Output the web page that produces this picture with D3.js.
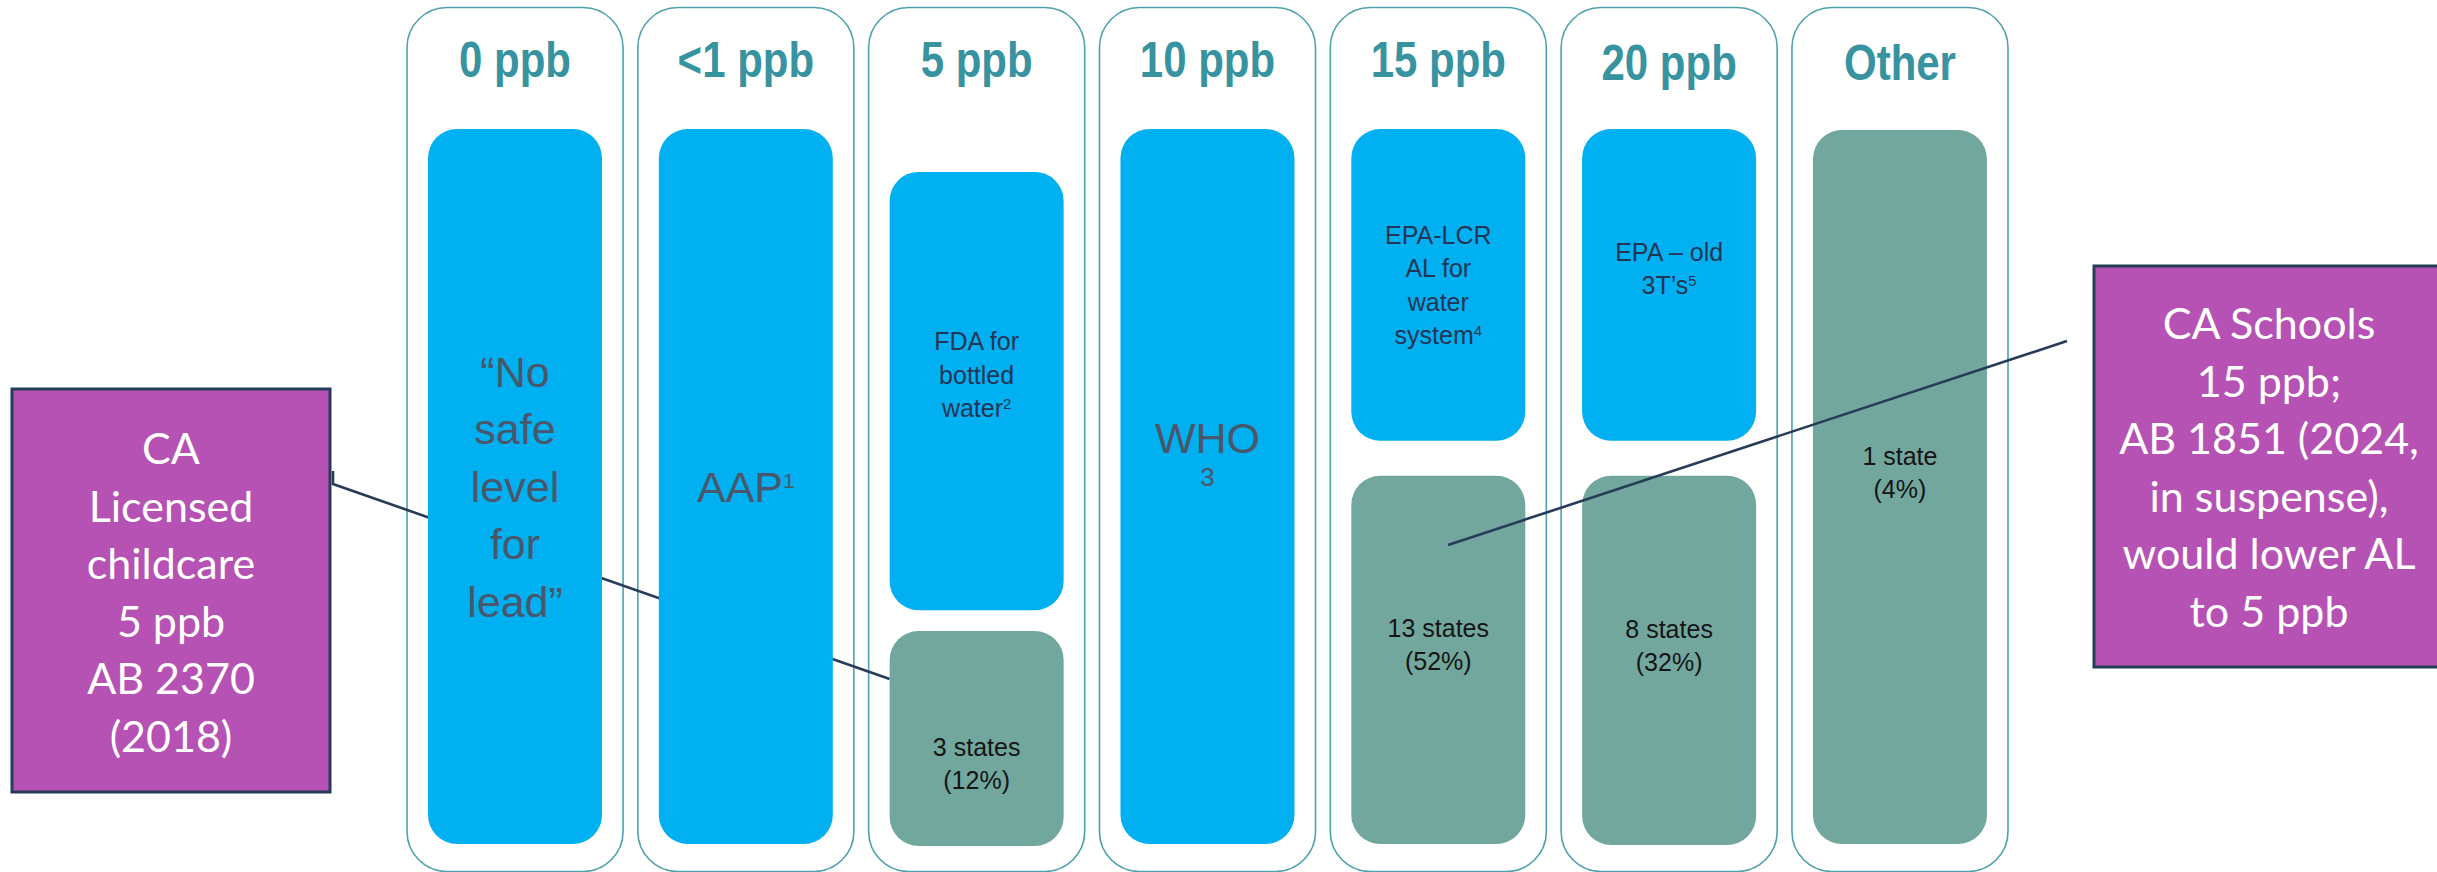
<!DOCTYPE html>
<html>
<head>
<meta charset="utf-8">
<script src="https://cdn.jsdelivr.net/npm/d3@7"></script>
<style>
  html, body { margin: 0; padding: 0; background: #ffffff; }
  svg { display: block; }
</style>
</head>
<body>
<script>
// ---------------- DATA ----------------
const categories = ["0 ppb", "<1 ppb", "5 ppb", "10 ppb", "15 ppb", "20 ppb", "Other"];
const standardLabels = [
  ["“No", "safe", "level", "for", "lead”"],
  ["AAP"],
  ["FDA for", "bottled", "water", ""],
  ["WHO"],
  ["EPA-LCR", "AL for", "water", "system"],
  ["EPA – old", "3T’s", ""],
  []
];
const footnotes = ["", "1", "2", "3", "4", "5", ""];
const stateCounts = [null, null, 3, null, 13, 8, 1];
const statePercents = [null, null, 12, null, 52, 32, 4];
const calloutLeft = ["CA", "Licensed", "childcare", "5 ppb", "AB 2370", "(2018)"];
const calloutRight = ["CA Schools", "15 ppb;", "AB 1851 (2024,", "in suspense),", "would lower AL", "to 5 ppb"];

// ---------------- LAYOUT ----------------
const W = 2437, H = 872;
const C = {
  blue: "#00b0f0", green: "#72a79e", purple: "#b552b4", navy: "#263c58",
  frame: "#4ea2ad", header: "#3893a0", greyText: "#4a566a", navyText: "#233555", black: "#151515"
};
// vertical extents of the inner boxes (fraction of the inner column height)
const layout = [
  { blue: [0, 1], big: true },
  { blue: [0, 1], big: true },
  { blue: [0.06, 0.673], green: [0.702, 1.0028], greenOff: 18 },
  { blue: [0, 1], big: true, wrapNote: true },
  { blue: [0, 0.436], green: [0.485, 1], greenOff: -23 },
  { blue: [0, 0.436], green: [0.485, 1.0014], greenOff: -22 },
  { green: [0.0014, 1], greenOff: -22 }
];

const svg = d3.select("body").append("svg").attr("width", W).attr("height", H);

const x = d3.scaleBand().domain(categories).range([407, 2008]).paddingInner(0.064).paddingOuter(0);
const y = d3.scaleLinear().domain([0, 1]).range([129, 844]);
const inset = 21, boxW = 174;

const SANS = "'Liberation Sans', Arial, sans-serif";

// column frames
svg.append("g").selectAll("rect").data(categories).join("rect")
  .attr("x", d => x(d)).attr("y", 7.5)
  .attr("width", x.bandwidth()).attr("height", 864)
  .attr("rx", 40).attr("ry", 40)
  .attr("fill", "none").attr("stroke", C.frame).attr("stroke-width", 1.6);

// column headers (condensed bold)
svg.append("g").selectAll("text").data(categories).join("text")
  .attr("transform", (d, i) => `translate(${x(d) + x.bandwidth() / 2},${i >= 5 ? 80 : 77}) scale(0.84,1)`)
  .attr("text-anchor", "middle")
  .attr("font-family", SANS).attr("font-weight", "bold").attr("font-size", 50)
  .attr("fill", C.header)
  .text(d => d);

// left connector (behind the inner boxes)
svg.append("path")
  .attr("d", `M333,471 L333,484 L${x("5 ppb") + inset},679`)
  .attr("fill", "none").attr("stroke", C.navy).attr("stroke-width", 2.6);

// inner boxes
const gBoxes = svg.append("g");
categories.forEach((cat, i) => {
  const L = layout[i];
  const bx = x(cat) + inset, cx = bx + boxW / 2;
  if (L.blue) {
    const y0 = y(L.blue[0]), y1 = y(L.blue[1]);
    gBoxes.append("rect").attr("x", bx).attr("y", y0).attr("width", boxW).attr("height", y1 - y0)
      .attr("rx", 29).attr("fill", C.blue);
    const lines = standardLabels[i];
    const mid = (y0 + y1) / 2;
    if (L.big) {
      const fs = 43, lh = 57.5;
      if (L.wrapNote) {
        gBoxes.append("text").attr("x", cx).attr("y", mid - 33.5).attr("text-anchor", "middle")
          .attr("font-family", SANS).attr("font-size", fs).attr("fill", C.greyText).text(lines[0]);
        gBoxes.append("text").attr("x", cx).attr("y", mid - 0.5).attr("text-anchor", "middle")
          .attr("font-family", SANS).attr("font-size", 26).attr("fill", C.greyText).text(footnotes[i]);
      } else {
        const first = mid - (lines.length - 1) / 2 * lh + 15.4;
        lines.forEach((ln, k) => {
          const t = gBoxes.append("text").attr("x", cx).attr("y", first + k * lh).attr("text-anchor", "middle")
            .attr("font-family", SANS).attr("font-size", fs).attr("fill", C.greyText);
          t.append("tspan").text(ln);
          if (k === lines.length - 1 && footnotes[i]) {
            t.append("tspan").attr("font-size", 21).attr("dy", -14).text(footnotes[i]);
          }
        });
      }
    } else {
      const fs = 25, lh = 33.5;
      const first = mid - (lines.length - 1) / 2 * lh + 9.3;
      let lastIdx = lines.length - 1;
      while (lastIdx > 0 && lines[lastIdx] === "") lastIdx--;
      lines.forEach((ln, k) => {
        if (ln === "") return;
        const t = gBoxes.append("text").attr("x", cx).attr("y", first + k * lh).attr("text-anchor", "middle")
          .attr("font-family", SANS).attr("font-size", fs).attr("fill", C.navyText);
        t.append("tspan").text(ln);
        if (k === lastIdx && footnotes[i]) {
          t.append("tspan").attr("font-size", 15).attr("dy", -8).text(footnotes[i]);
        }
      });
    }
  }
  if (L.green) {
    const y0 = y(L.green[0]), y1 = y(L.green[1]);
    gBoxes.append("rect").attr("x", bx).attr("y", y0).attr("width", boxW).attr("height", y1 - y0)
      .attr("rx", 29).attr("fill", C.green);
    const mid = (y0 + y1) / 2 + L.greenOff;
    const n = stateCounts[i];
    const l1 = `${n} ${n === 1 ? "state" : "states"}`;
    const l2 = `(${statePercents[i]}%)`;
    [l1, l2].forEach((ln, k) => {
      gBoxes.append("text").attr("x", cx).attr("y", mid + k * 33).attr("text-anchor", "middle")
        .attr("font-family", SANS).attr("font-size", 25).attr("fill", C.black).text(ln);
    });
  }
});

// callout boxes
function callout(x0, y0, w, h, lines, baseline0) {
  const g = svg.append("g");
  g.append("rect").attr("x", x0).attr("y", y0).attr("width", w).attr("height", h)
    .attr("fill", C.purple).attr("stroke", C.navy).attr("stroke-width", 3);
  g.selectAll("text").data(lines).join("text")
    .attr("x", x0 + w / 2).attr("y", (d, k) => baseline0 + k * 57.6)
    .attr("text-anchor", "middle").attr("font-family", "Lato, 'Open Sans', sans-serif")
    .attr("font-size", 43).attr("fill", "#ffffff").text(d => d);
}
callout(12, 389, 318, 403, calloutLeft, 464);
callout(2094, 266, 350, 401, calloutRight, 339);

// right connector (on top)
svg.append("line").attr("x1", 1448).attr("y1", 545).attr("x2", 2067).attr("y2", 341)
  .attr("stroke", C.navy).attr("stroke-width", 2.6);
</script>
</body>
</html>
